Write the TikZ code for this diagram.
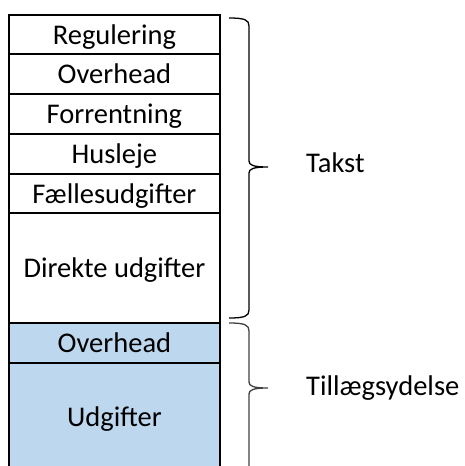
\documentclass[tikz,border=0pt]{standalone}
\usepackage{fontspec}
\setmainfont{Carlito}
\definecolor{addblue}{HTML}{BDD7EE}
\definecolor{bracegray}{HTML}{404040}
\tikzset{
  cell/.style={draw, line width=1.8pt, anchor=north west, minimum width=211pt,
    inner sep=0pt, text height=22pt, text depth=2pt,
    font=\fontsize{28.5}{33}\selectfont},
  bracelabel/.style={anchor=base west, inner sep=0pt,
    font=\fontsize{28.5}{33}\selectfont},
  bracestroke/.style={line width=1.3pt}
}
% one row of the cost column: name, top, height, fill, text
\newcommand{\costcell}[5]{
  \node [cell, fill=#4, minimum height=#3pt] (#1) at (8,#2) {#5};
}
% right brace: tip name, top, tip, bottom, colour
\newcommand{\sumbrace}[5]{
  \draw [bracestroke, #5] (229,#2) .. controls (245,#2) and (249,#2+2) .. (249,#2+8)
    -- (249,#3-6) .. controls (249,#3-2) and (253,#3) .. (268,#3) coordinate (#1)
    .. controls (253,#3) and (249,#3+2) .. (249,#3+6)
    -- (249,#4-8) .. controls (249,#4-2) and (245,#4) .. (229,#4);
}

\begin{document}
\begin{tikzpicture}[x=1pt, y=-1pt]
\clip (0,0) rectangle (464,466);
\costcell{reg}{14}{39}{white}{Regulering}
\costcell{ovh}{53}{40}{white}{Overhead}
\costcell{forr}{93}{40}{white}{Forrentning}
\costcell{husl}{133}{40}{white}{Husleje}
\costcell{faell}{173}{39}{white}{Fællesudgifter}
\costcell{dir}{212}{110}{white}{Direkte udgifter}
\costcell{tovh}{322}{40}{addblue}{Overhead}
\costcell{udg}{362}{108}{addblue}{Udgifter}
\sumbrace{takst tip}{18}{167}{318}{black}
\sumbrace{till tip}{323}{388}{480}{bracegray}
\node [bracelabel] (takst) at ([shift={(38,5)}]takst tip) {Takst};
\node [bracelabel] (till) at ([shift={(38,7)}]till tip) {Tillægsydelse};
\end{tikzpicture}
\end{document}
